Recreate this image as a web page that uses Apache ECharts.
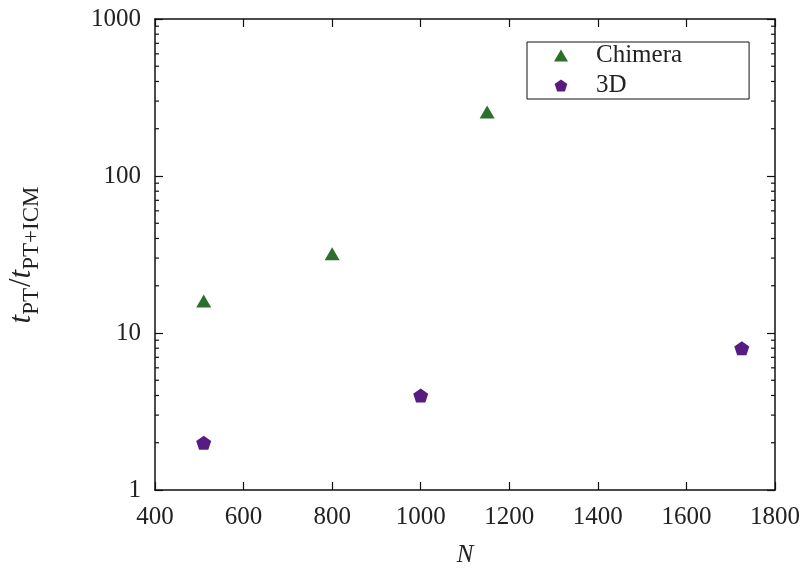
<!DOCTYPE html>
<html>
<head>
<meta charset="utf-8">
<script src="https://cdn.jsdelivr.net/npm/echarts@6/dist/echarts.min.js"></script>
<style>html,body{margin:0;padding:0;background:#fff}#c{width:807px;height:571px}</style>
</head>
<body>
<div id="c"></div>
<script>
// ---- data ----
const seriesNames = ['Chimera', '3D'];
const chimeraN = [510, 800, 1150];
const chimeraRatio = [16, 32, 256];
const d3N = [510, 1000, 1725];
const d3Ratio = [2, 4, 8];
const xTickLabels = ['400', '600', '800', '1000', '1200', '1400', '1600', '1800'];
const yTickLabels = ['1', '10', '100', '1000'];
const minorTickValues = [];
[1, 10, 100].forEach(function (d) { for (let k = 2; k <= 9; k++) minorTickValues.push(d * k); });

const FONT = 'Liberation Serif';
const FS = 25;
const TXT = '#222';
const green = '#2c6e2c';
const purple = '#571c82';
const pentagon = 'path://M0,-10 L9.51,-3.09 L5.88,8.09 L-5.88,8.09 L-9.51,-3.09 Z';

const chart = echarts.init(document.getElementById('c'), null, {renderer: 'canvas'});

const axisLine = {show: true, lineStyle: {color: '#111', width: 1.5}};
const tick = {show: true, inside: true, length: 8, lineStyle: {color: '#111', width: 1.2}};
const xMin = +xTickLabels[0], xMax = +xTickLabels[xTickLabels.length - 1];
const yMin = +yTickLabels[0], yMax = +yTickLabels[yTickLabels.length - 1];
const plain = function (v) { return String(v); };

chart.setOption({
  animation: false,
  backgroundColor: '#fff',
  grid: {left: 155, right: 32, top: 19, bottom: 81, containLabel: false, outerBoundsMode: 'none'},
  legend: {
    orient: 'vertical',
    left: 527, top: 42,
    padding: [1, 67, 1, 27],
    itemGap: 5,
    itemWidth: 14, itemHeight: 12,
    borderColor: '#111', borderWidth: 1,
    textStyle: {fontFamily: FONT, fontSize: FS, color: TXT, padding: [0, 0, 0, 23], lineHeight: 25},
    data: [{name: seriesNames[0], icon: 'triangle'}, {name: seriesNames[1], icon: pentagon}]
  },
  xAxis: [{
    type: 'value', min: xMin, max: xMax, interval: 200,
    name: 'N', nameLocation: 'middle', nameGap: 53,
    nameTextStyle: {fontFamily: FONT, fontSize: FS, fontStyle: 'italic', color: TXT},
    axisLine: axisLine, axisTick: tick,
    axisLabel: {fontFamily: FONT, fontSize: FS, color: TXT, margin: 15, formatter: plain},
    splitLine: {show: false}
  }, {
    type: 'value', min: xMin, max: xMax, interval: 200, position: 'top',
    axisLine: axisLine, axisTick: tick,
    axisLabel: {show: false},
    splitLine: {show: false}
  }],
  yAxis: [{
    type: 'log', logBase: 10, min: yMin, max: yMax,
    name: '{i|t}{s|PT}{n|/}{i|t}{s|PT+ICM}',
    nameLocation: 'middle', nameGap: 118, nameRotate: 90,
    nameTextStyle: {
      fontFamily: FONT, color: TXT,
      rich: {
        i: {fontFamily: FONT, fontSize: 31, fontStyle: 'italic', color: TXT, lineHeight: 30, verticalAlign: 'bottom'},
        n: {fontFamily: FONT, fontSize: 31, color: TXT, lineHeight: 30, verticalAlign: 'bottom'},
        s: {fontFamily: FONT, fontSize: 23, color: TXT, lineHeight: 22, verticalAlign: 'bottom', padding: [0, 1, -6, 0]}
      }
    },
    axisLine: axisLine, axisTick: tick,
    axisLabel: {fontFamily: FONT, fontSize: FS, color: TXT, margin: 14, formatter: plain},
    splitLine: {show: false}
  }, {
    type: 'log', logBase: 10, min: yMin, max: yMax, position: 'right',
    axisLine: axisLine, axisTick: tick,
    axisLabel: {show: false},
    splitLine: {show: false}
  }],
  series: [{
    name: seriesNames[0], type: 'scatter', symbol: 'triangle', symbolSize: [15, 13],
    itemStyle: {color: green, opacity: 1},
    data: chimeraN.map(function (n, i) { return [n, chimeraRatio[i]]; }),
    z: 5
  }, {
    name: seriesNames[1], type: 'scatter', symbol: pentagon, symbolSize: [15, 14],
    itemStyle: {color: purple, opacity: 1},
    data: d3N.map(function (n, i) { return [n, d3Ratio[i]]; }),
    z: 5
  }, {
    name: 'minorTicks', type: 'custom', silent: true,
    xAxisIndex: 0, yAxisIndex: 0,
    data: minorTickValues.map(function (v) { return [xMin, v]; }),
    renderItem: function (params, api) {
      const cs = params.coordSys;
      const y = api.coord([api.value(0), api.value(1)])[1];
      const st = {stroke: '#111', lineWidth: 1.2};
      return {type: 'group', children: [
        {type: 'line', shape: {x1: cs.x, y1: y, x2: cs.x + 4, y2: y}, style: st},
        {type: 'line', shape: {x1: cs.x + cs.width - 4, y1: y, x2: cs.x + cs.width, y2: y}, style: st}
      ]};
    },
    z: 3
  }]
});
</script>
</body>
</html>
